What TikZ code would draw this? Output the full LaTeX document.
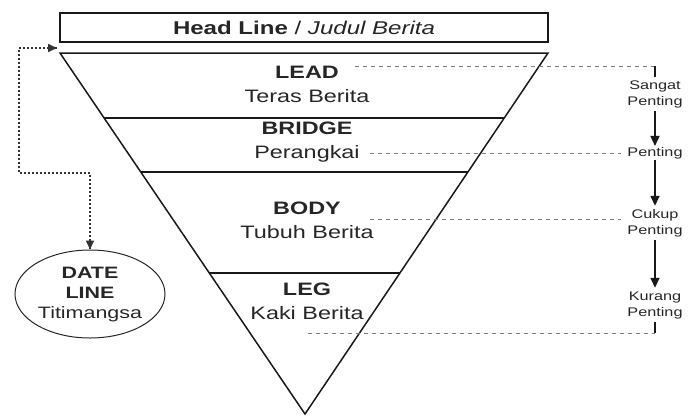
\documentclass[tikz,border=0pt]{standalone}
\usepackage{fontspec}
\setmainfont{Liberation Sans}
\usepackage{graphicx}
\usetikzlibrary{arrows.meta,shapes.geometric,calc}

\newcommand{\wide}[1]{\scalebox{1.3}[1]{#1}}
\newcommand{\twoline}[2]{\wide{\begin{tabular}{@{}c@{}}#1\\#2\end{tabular}}}

\begin{document}
\begin{tikzpicture}[x=1pt, y=-1pt,
    edge/.style={line width=1.5pt, black!90},
    headbox/.style={draw, edge, minimum width=488pt, minimum height=29pt, inner sep=0pt,
        text=black!85, font=\fontsize{18.5}{20}\selectfont},
    layer/.style={text=black!85, font=\fontsize{18}{24}\selectfont, inner sep=1pt},
    rank/.style={text=black!85, font=\fontsize{12.5}{16}\selectfont, inner sep=1pt},
    datebox/.style={ellipse, draw, line width=1pt, black!85, minimum width=150pt,
        minimum height=88pt, inner sep=0pt, font=\fontsize{16.5}{20}\selectfont},
    guide/.style={gray, line width=0.9pt, dash pattern=on 4pt off 4pt},
    tick/.style={line width=1.5pt, black!90},
    down/.style={line width=1.5pt, black!90, -{Triangle[length=10pt,width=9pt]}},
    dotlink/.style={line width=1.6pt, black!80, dash pattern=on 2pt off 2pt},
    dottip/.style={line width=1.6pt, black!80, -{Triangle[length=9pt,width=8pt]}}]
    \useasboundingbox (0,0) rectangle (693,416);

    % Head line box
    \node[headbox] (headline) at (304,27.5) {\wide{\textbf{Head Line} / \textit{Judul Berita}}};

    % Inverted pyramid
    \coordinate (A) at (60,53);
    \coordinate (B) at (548,53);
    \coordinate (C) at (305,414);
    \draw[edge] (A) -- (B) -- (C) -- cycle;
    \draw[edge] ($(A)!0.18!(C)$) -- ($(B)!0.18!(C)$);
    \draw[edge] ($(A)!0.33!(C)$) -- ($(B)!0.33!(C)$);
    \draw[edge] ($(A)!0.609!(C)$) -- ($(B)!0.609!(C)$);

    % Layers
    \node[layer] (lead) at (307,85.5) {\twoline{\textbf{LEAD}}{Teras Berita}};
    \node[layer] (bridge) at (307,141.5) {\twoline{\textbf{BRIDGE}}{Perangkai}};
    \node[layer] (body) at (307,221.5) {\twoline{\textbf{BODY}}{Tubuh Berita}};
    \node[layer] (leg) at (307,303) {\twoline{\textbf{LEG}}{Kaki Berita}};

    % Importance scale
    \node[rank] (sangat) at (655,94) {\twoline{Sangat}{Penting}};
    \node[rank] (penting) at (655,153) {\wide{Penting}};
    \node[rank] (cukup) at (655,223) {\twoline{Cukup}{Penting}};
    \node[rank] (kurang) at (655,305) {\twoline{Kurang}{Penting}};
    \draw[down] (sangat) -- (penting);
    \draw[down] (penting) -- (cukup);
    \draw[down] (cukup) -- (kurang);

    % Guide lines
    \coordinate (g1) at (355,66);
    \coordinate (top) at (655,66);
    \coordinate (g2) at (370,153);
    \coordinate (g3) at (370,219);
    \coordinate (g4) at (308,333);
    \coordinate (bottom) at (655,333);
    \draw[guide] (g1) -- (top);
    \draw[tick] (top) -- (sangat.north);
    \draw[guide, shorten >=5pt] (g2) -- (penting.west);
    \draw[guide, shorten >=5pt] (g3) -- (g3 -| cukup.west);
    \draw[guide] (g4) -- (bottom);
    \draw[tick] (kurang.south) -- (bottom);

    % Date line
    \node[datebox] (dateline) at (90,294)
        {\wide{\begin{tabular}{@{}c@{}}\textbf{DATE}\\\textbf{LINE}\\Titimangsa\end{tabular}}};
    \coordinate (hlpoint) at (57,48);
    \coordinate (turn) at (19,173);
    \draw[dotlink] (hlpoint) -| (turn) -| (dateline.north);
    \draw[dottip] ([xshift=-10pt]hlpoint) -- (hlpoint);
    \draw[dottip] ([yshift=10pt]dateline.north) -- (dateline.north);
\end{tikzpicture}
\end{document}
